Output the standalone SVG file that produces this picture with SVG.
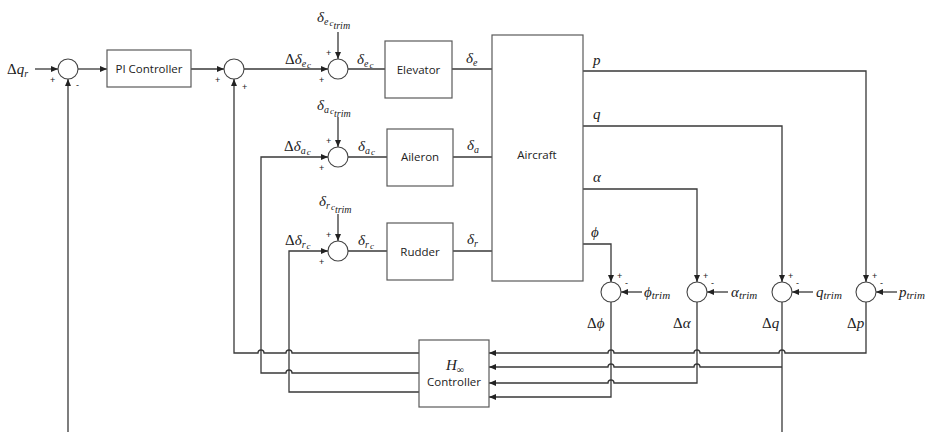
<svg xmlns="http://www.w3.org/2000/svg" width="928" height="432" viewBox="0 0 928 432">
<defs>
<marker id="ah" viewBox="0 0 8 8" refX="8" refY="4" markerWidth="7" markerHeight="7" orient="auto" markerUnits="userSpaceOnUse"><path d="M0,0.6 L8,4 L0,7.4 z" fill="#222"/></marker>
<style>
.box{fill:#fff;stroke:#5a5a5a;stroke-width:1.2}
.sum{fill:#fff;stroke:#444;stroke-width:1.1}
.ln{fill:none;stroke:#383838;stroke-width:1.3}
.ar{fill:none;stroke:#383838;stroke-width:1.3;marker-end:url(#ah)}
.t{font-family:"Open Sans","Liberation Sans",sans-serif;font-size:11.5px;fill:#222;text-anchor:middle}
.m{font-family:"Liberation Serif","DejaVu Serif",serif;font-size:15px;fill:#222;font-style:italic}
.u{font-style:normal}
.s{font-family:"Liberation Sans",sans-serif;font-size:9px;fill:#222}
</style>
</defs>
<rect width="928" height="432" fill="#fff"/>

<g id="connectors">
<path class="ar" d="M35,69 H58"/>
<path class="ar" d="M78,69 H107"/>
<path class="ar" d="M191,69 H224"/>
<path class="ar" d="M244,69 H328"/>
<path class="ln" d="M348,69 H385"/>
<path class="ln" d="M452,69 H492"/>
<path class="ar" d="M338,32 V59"/>
<path class="ar" d="M68,432 V79"/>
<path class="ar" d="M338,117 V147"/>
<path class="ln" d="M348,157 H387"/>
<path class="ln" d="M453,157 H492"/>
<path class="ar" d="M338,214 V241"/>
<path class="ln" d="M348,251 H387"/>
<path class="ln" d="M453,251 H492"/>
<path class="ar" d="M419,353 H292 a3,3 0 0 0 -6,0 H264 a3,3 0 0 0 -6,0 H234 V79"/>
<path class="ar" d="M419,373 H292 a3,3 0 0 0 -6,0 H261 V157 H328"/>
<path class="ar" d="M419,392 H289 V251 H328"/>
<path class="ar" d="M583,71 H866 V282"/>
<path class="ar" d="M583,126 H782 V282"/>
<path class="ar" d="M583,189 H697 V282"/>
<path class="ar" d="M583,244 H611 V282"/>
<path class="ar" d="M642,292 H621"/>
<path class="ar" d="M728,292 H707"/>
<path class="ar" d="M813,292 H792"/>
<path class="ar" d="M897,292 H876"/>
<path class="ar" d="M866,302 V353 H785 a3,3 0 0 0 -6,0 H700 a3,3 0 0 0 -6,0 H614 a3,3 0 0 0 -6,0 H489"/>
<path class="ln" d="M782,302 V432"/>
<path class="ar" d="M782,367 H700 a3,3 0 0 0 -6,0 H614 a3,3 0 0 0 -6,0 H489"/>
<path class="ar" d="M697,302 V383 H614 a3,3 0 0 0 -6,0 H489"/>
<path class="ar" d="M611,302 V397 H489"/>
</g>

<g id="input-label"><text class="m" x="7" y="74"><tspan class="u">Δ</tspan>q<tspan font-size="10" dy="3">r</tspan></text></g>

<g id="sum1">
<circle class="sum" cx="68" cy="69" r="10"/>
<text class="s" x="50" y="83">+</text><text class="s" x="76" y="88">-</text>
</g>

<g id="pi-controller">
<rect class="box" x="107" y="50" width="84" height="37"/>
<text class="t" x="149" y="73">PI Controller</text>
</g>

<g id="sum2">
<circle class="sum" cx="234" cy="69" r="10"/>
<text class="s" x="215" y="83">+</text><text class="s" x="242" y="90">+</text>
</g>

<g id="sum-elevator">
<circle class="sum" cx="338" cy="69" r="10"/>
<text class="s" x="326" y="56">+</text><text class="s" x="319" y="83">+</text>
<text class="m" x="317" y="22">δ<tspan font-size="10" dy="3">e</tspan><tspan font-size="9" dx="1" dy="1">c</tspan><tspan font-size="10" dy="3">trim</tspan></text>
<text class="m" x="285" y="64"><tspan class="u">Δ</tspan>δ<tspan font-size="10" dy="3">e</tspan><tspan font-size="9" dx="1" dy="1">c</tspan></text>
<text class="m" x="357" y="64">δ<tspan font-size="10" dy="3">e</tspan><tspan font-size="9" dx="1" dy="1">c</tspan></text>
</g>

<g id="elevator">
<rect class="box" x="385" y="41" width="67" height="57"/>
<text class="t" x="418.5" y="74">Elevator</text>
<text class="m" x="466" y="63">δ<tspan font-size="10" dy="3">e</tspan></text>
</g>

<g id="sum-aileron">
<circle class="sum" cx="338" cy="157" r="10"/>
<text class="s" x="326" y="144">+</text><text class="s" x="319" y="171">+</text>
<text class="m" x="317" y="110">δ<tspan font-size="10" dy="3">a</tspan><tspan font-size="9" dx="1" dy="1">c</tspan><tspan font-size="10" dy="3">trim</tspan></text>
<text class="m" x="284" y="151"><tspan class="u">Δ</tspan>δ<tspan font-size="10" dy="3">a</tspan><tspan font-size="9" dx="1" dy="1">c</tspan></text>
<text class="m" x="358" y="151">δ<tspan font-size="10" dy="3">a</tspan><tspan font-size="9" dx="1" dy="1">c</tspan></text>
</g>

<g id="aileron">
<rect class="box" x="387" y="129" width="66" height="57"/>
<text class="t" x="420" y="161">Aileron</text>
<text class="m" x="467" y="150">δ<tspan font-size="10" dy="3">a</tspan></text>
</g>

<g id="sum-rudder">
<circle class="sum" cx="338" cy="251" r="10"/>
<text class="s" x="326" y="238">+</text><text class="s" x="319" y="265">+</text>
<text class="m" x="319" y="206">δ<tspan font-size="10" dy="3">r</tspan><tspan font-size="9" dx="1" dy="1">c</tspan><tspan font-size="10" dy="3">trim</tspan></text>
<text class="m" x="285" y="245"><tspan class="u">Δ</tspan>δ<tspan font-size="10" dy="3">r</tspan><tspan font-size="9" dx="1" dy="1">c</tspan></text>
<text class="m" x="358" y="245">δ<tspan font-size="10" dy="3">r</tspan><tspan font-size="9" dx="1" dy="1">c</tspan></text>
</g>

<g id="rudder">
<rect class="box" x="387" y="223" width="66" height="57"/>
<text class="t" x="420" y="256">Rudder</text>
<text class="m" x="467" y="244">δ<tspan font-size="10" dy="3">r</tspan></text>
</g>

<g id="aircraft">
<rect class="box" x="492" y="35" width="91" height="246"/>
<text class="t" x="537" y="159">Aircraft</text>
<text class="m" x="593" y="65">p</text>
<text class="m" x="593" y="119">q</text>
<text class="m" x="593" y="182">α</text>
<text class="m" x="591" y="237">ϕ</text>
</g>

<g id="sum-phi">
<circle class="sum" cx="611" cy="292" r="10"/>
<text class="s" x="617" y="279">+</text><text class="s" x="625" y="286">-</text>
<text class="m" x="644" y="297">ϕ<tspan font-size="11" dy="2">trim</tspan></text>
<text class="m" x="587" y="328"><tspan class="u">Δ</tspan>ϕ</text>
</g>

<g id="sum-alpha">
<circle class="sum" cx="697" cy="292" r="10"/>
<text class="s" x="703" y="279">+</text><text class="s" x="711" y="286">-</text>
<text class="m" x="731" y="297">α<tspan font-size="11" dy="2">trim</tspan></text>
<text class="m" x="673" y="328"><tspan class="u">Δ</tspan>α</text>
</g>

<g id="sum-q">
<circle class="sum" cx="782" cy="292" r="10"/>
<text class="s" x="788" y="279">+</text><text class="s" x="796" y="286">-</text>
<text class="m" x="816" y="297">q<tspan font-size="11" dy="2">trim</tspan></text>
<text class="m" x="762" y="328"><tspan class="u">Δ</tspan>q</text>
</g>

<g id="sum-p">
<circle class="sum" cx="866" cy="292" r="10"/>
<text class="s" x="872" y="279">+</text><text class="s" x="880" y="286">-</text>
<text class="m" x="899" y="297">p<tspan font-size="11" dy="2">trim</tspan></text>
<text class="m" x="847" y="328"><tspan class="u">Δ</tspan>p</text>
</g>

<g id="hinf-controller">
<rect class="box" x="419" y="340" width="70" height="67"/>
<text class="m" x="446" y="370">H<tspan font-size="10" dy="3" class="u">∞</tspan></text>
<text class="t" x="454" y="386">Controller</text>
</g>
</svg>
